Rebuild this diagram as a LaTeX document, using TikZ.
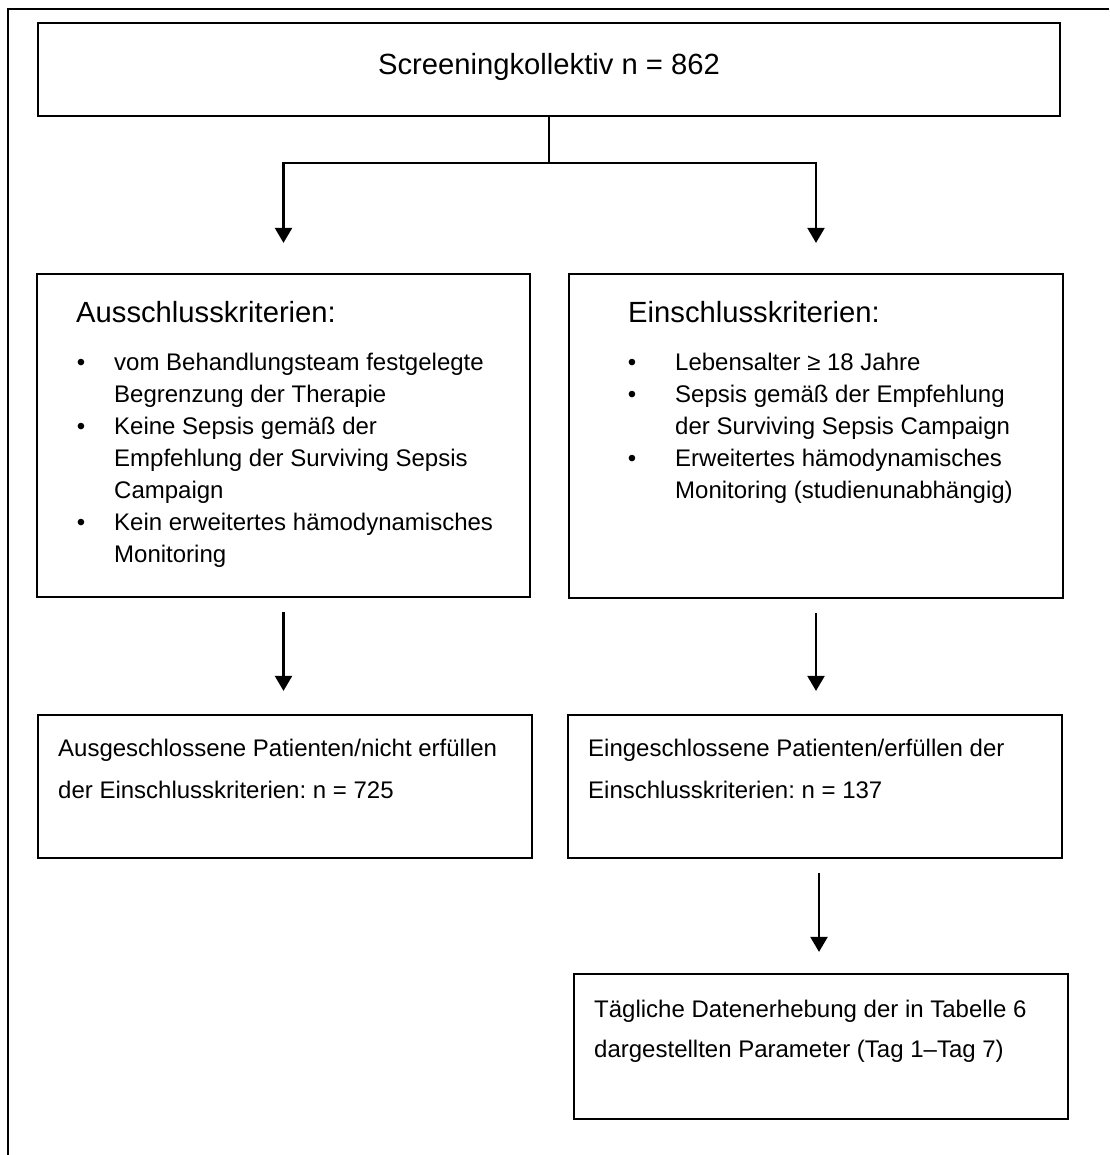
\documentclass[tikz,border=0pt]{standalone}
\usepackage{fontspec}
\setmainfont{Liberation Sans}
\usetikzlibrary{arrows.meta}
\frenchspacing
\begin{document}
\begin{tikzpicture}[x=1pt,y=-1pt,
  box/.style={draw, line width=2.2pt, rectangle, inner sep=0pt},
  arr/.style={line width=2.2pt, -{Triangle[length=15pt,width=17pt]}},
  head/.style={anchor=base west, inner sep=0pt, font=\fontsize{29.2}{34}\selectfont},
  txt/.style={anchor=base west, inner sep=0pt, font=\fontsize{24}{30}\selectfont},
  bul/.style={anchor=base, inner sep=0pt, font=\fontsize{24}{30}\selectfont}]
\useasboundingbox (0,0) rectangle (1109,1155);
% outer frame (top and left edges)
\draw[line width=2.5pt] (1109,9) -- (8,9) -- (8,1155);
% boxes
\node[box, minimum width=1022pt, minimum height=93pt] (top) at (549,69.5) {};
\node[box, minimum width=493pt, minimum height=323pt] (aus) at (283.5,435.5) {};
\node[box, minimum width=494pt, minimum height=324pt] (ein) at (816,436) {};
\node[box, minimum width=494pt, minimum height=143pt] (ausn) at (285,786.5) {};
\node[box, minimum width=494pt, minimum height=143pt] (einn) at (815,786.5) {};
\node[box, minimum width=494pt, minimum height=145pt] (tag) at (821,1046.5) {};
% texts
\node[anchor=base, inner sep=0pt, font=\fontsize{29.2}{34}\selectfont] (ttop) at (549,75) {Screeningkollektiv n = 862};
\node[head] (ha) at (76,322) {Ausschlusskriterien:};
\node[bul] (ba1) at (81,370) {•};
\node[bul] (ba2) at (81,434) {•};
\node[bul] (ba3) at (81,530) {•};
\node[txt] (a1) at (114,370) {vom Behandlungsteam festgelegte};
\node[txt] (a2) at (114,402) {Begrenzung der Therapie};
\node[txt] (a3) at (114,434) {Keine Sepsis gemäß der};
\node[txt] (a4) at (114,466) {Empfehlung der Surviving Sepsis};
\node[txt] (a5) at (114,498) {Campaign};
\node[txt] (a6) at (114,530) {Kein erweitertes hämodynamisches};
\node[txt] (a7) at (114,562) {Monitoring};
\node[head] (he) at (628,322) {Einschlusskriterien:};
\node[bul] (be1) at (632,370) {•};
\node[bul] (be2) at (632,402) {•};
\node[bul] (be3) at (632,466) {•};
\node[txt] (e1) at (675,370) {Lebensalter ≥ 18 Jahre};
\node[txt] (e2) at (675,402) {Sepsis gemäß der Empfehlung};
\node[txt] (e3) at (675,434) {der Surviving Sepsis Campaign};
\node[txt] (e4) at (675,466) {Erweitertes hämodynamisches};
\node[txt] (e5) at (675,498) {Monitoring (studienunabhängig)};
\node[txt] (n1) at (58,756) {Ausgeschlossene Patienten/nicht erfüllen};
\node[txt] (n2) at (58,798) {der Einschlusskriterien: n = 725};
\node[txt] (m1) at (588,756) {Eingeschlossene Patienten/erfüllen der};
\node[txt] (m2) at (588,798) {Einschlusskriterien: n = 137};
\node[txt] (t1) at (594,1017) {Tägliche Datenerhebung der in Tabelle 6};
\node[txt] (t2) at (594,1057) {dargestellten Parameter (Tag 1–Tag 7)};
% connectors
\coordinate (split) at (549,163);
\draw[line width=2.2pt] (top.south) -- (split);
\draw[arr, shorten >=30pt] (split) -| (aus.north);
\draw[arr, shorten >=30pt] (split) -| (ein.north);
\draw[arr, shorten <=14pt, shorten >=23pt] (aus.south) -- (aus.south |- ausn.north);
\draw[arr, shorten <=14pt, shorten >=23pt] (ein.south) -- (ein.south |- einn.north);
\draw[arr, shorten <=14pt, shorten >=21pt] ([xshift=4pt]einn.south) -- ([xshift=4pt]einn.south |- tag.north);
\end{tikzpicture}
\end{document}
